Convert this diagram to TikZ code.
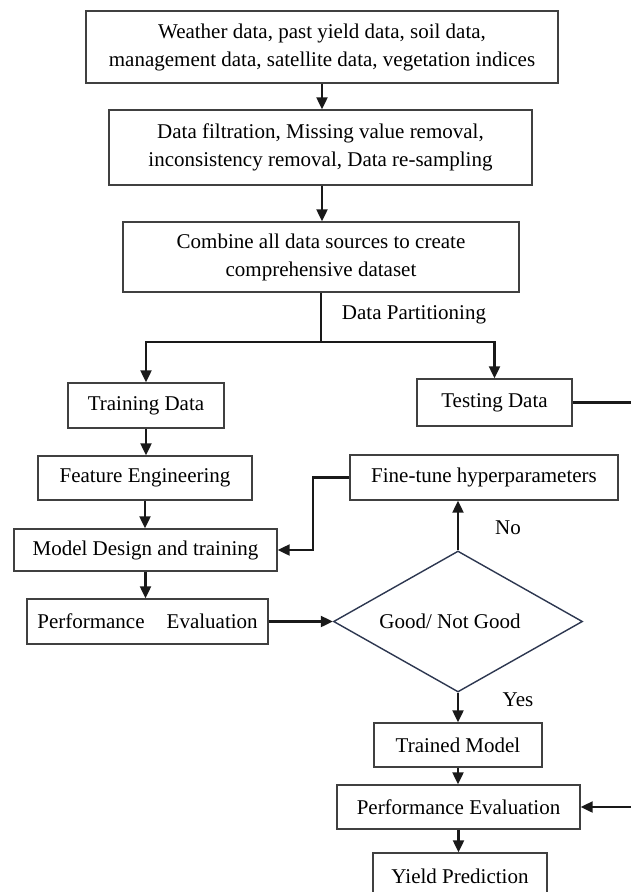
\documentclass[tikz,border=0pt]{standalone}
\usepackage{fontspec}
\setmainfont{Liberation Serif}
\usetikzlibrary{arrows.meta,shapes.geometric}
\tikzset{
  box/.style={draw=black!75, line width=1.4pt, rectangle, inner sep=0pt, align=center, fill=white},
  dia/.style={draw={rgb,255:red,45;green,55;blue,80}, line width=1.4pt, diamond, inner sep=0pt, minimum width=249pt, minimum height=141pt},
  arr/.style={draw=black!90, line width=2.2pt, -{Triangle[length=12pt,width=11pt]}},
  conn/.style={draw=black!90, line width=2.2pt},
  lbl/.style={inner sep=0pt}
}
\begin{document}
\begin{tikzpicture}[x=1pt,y=-1pt,font=\fontsize{21}{28}\selectfont]
\useasboundingbox (0,0) rectangle (631,892);
\clip (0,0) rectangle (631,892);
\fill[white] (0,0) rectangle (631,892);

\node[box, minimum width=472pt, minimum height=72pt] (b1) at (322,47) {Weather data, past yield data, soil data,\\management data, satellite data, vegetation indices};
\node[box, minimum width=423pt, minimum height=75pt] (b2) at (320.5,147.5) {Data filtration, Missing value removal,\\inconsistency removal, Data re-sampling};
\node[box, minimum width=396pt, minimum height=70pt] (b3) at (321,257) {Combine all data sources to create\\comprehensive dataset};
\node[box, minimum width=156pt, minimum height=45pt] (train) at (146,405.5) {Training Data};
\node[box, minimum width=155pt, minimum height=47pt] (test) at (494.5,402.5) {Testing Data};
\node[box, minimum width=214pt, minimum height=44pt] (feat) at (145,478) {Feature Engineering};
\node[box, minimum width=268pt, minimum height=45pt] (fine) at (484,477.5) {Fine-tune hyperparameters};
\node[box, minimum width=263pt, minimum height=42pt] (model) at (145.5,550) {Model Design and training};
\node[box, minimum width=241pt, minimum height=45pt] (perf1) at (147.5,621.5) {Performance\hspace{0.8em} Evaluation};
\node[dia] (dec) at (458,621.5) {};
\node[lbl] (dectext) at (450,621.5) {Good/ Not Good};
\node[box, minimum width=168pt, minimum height=44pt] (trained) at (458,745) {Trained Model};
\node[box, minimum width=243pt, minimum height=44pt] (perf2) at (458.5,807) {Performance Evaluation};
\node[box, minimum width=174pt, minimum height=46pt] (yield) at (460,876) {Yield Prediction};

\node[lbl] (dp) at (414,315) {Data Partitioning};
\node[lbl] (no) at (508,528) {No};
\node[lbl] (yes) at (518,700) {Yes};

\coordinate (split) at (321,342);
\coordinate (testout) at (631,402.5);
\coordinate (perfin) at (631,807);

\draw[arr] (b1.south) -- (b1.south |- b2.north);
\draw[arr] (b2.south -| b1.south) -- (b1.south |- b3.north);
\draw[conn] (b3.south) -- (split);
\draw[arr] (split) -| (train.north);
\draw[arr] (split) -| (test.north);
\draw[conn] (test.east) -- (testout);
\draw[arr] (train.south) -- (train.south |- feat.north);
\draw[arr] (feat.south) -- (feat.south |- model.north);
\draw[arr] (model.south) -- (model.south |- perf1.north);
\draw[arr] (perf1.east) -- (dec.west);
\draw[arr] (dec.north) -- (dec.north |- fine.south);
\draw[arr] (fine.west) -- ++(-36,0) |- (model.east);
\draw[arr] (dec.south) -- (trained.north);
\draw[arr] (trained.south) -- (trained.south |- perf2.north);
\draw[arr] (perf2.south) -- (perf2.south |- yield.north);
\draw[arr] (perfin) -- (perf2.east);
\end{tikzpicture}
\end{document}
